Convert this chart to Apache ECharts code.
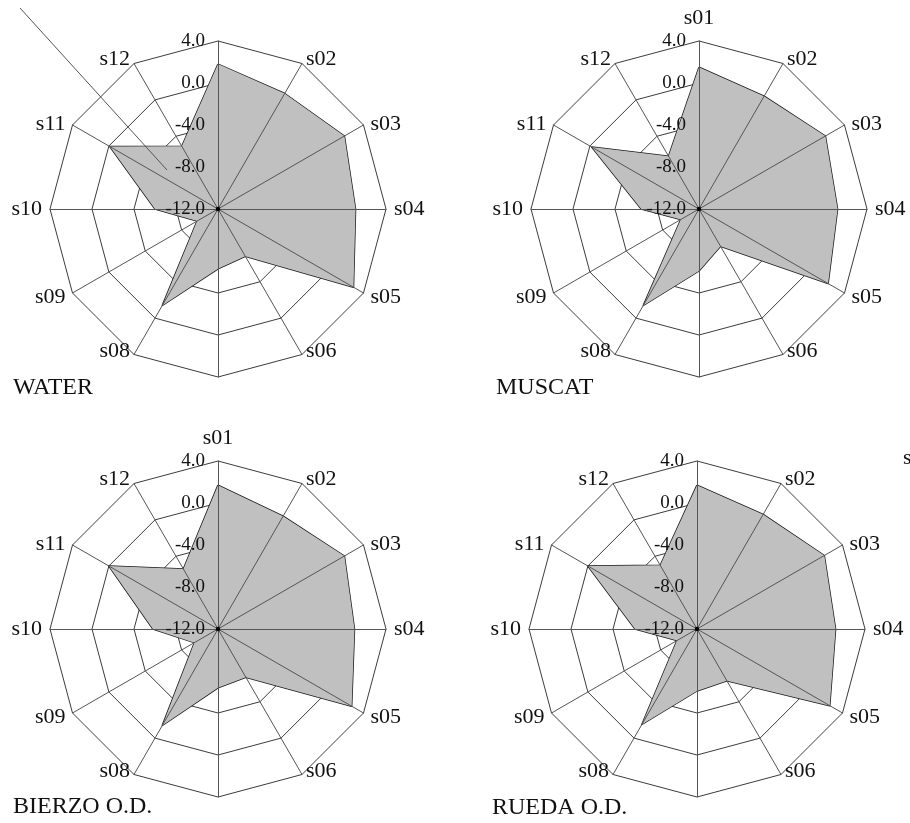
<!DOCTYPE html>
<html>
<head>
<meta charset="utf-8">
<script src="https://cdn.jsdelivr.net/npm/echarts@6/dist/echarts.min.js"></script>
<style>
  html, body { margin: 0; padding: 0; background: #fff; }
  #chart { width: 910px; height: 823px; }
</style>
</head>
<body>
<div id="chart"></div>
<script>
// Sensory attributes, listed clockwise from the top
const categories = ['s01', 's02', 's03', 's04', 's05', 's06', 's07', 's08', 's09', 's10', 's11', 's12'];

// Scores per attribute for each sample (same order as categories)
const waterValues  = [1.8, 0.7, 1.9, 1.1, 2.9, -6.8, -6.3, -1.4, -9.7, -6.0, -0.1, -5.1];
const muscatValues = [1.5, 0.4, 1.9, 1.2, 2.2, -7.9, -6.1, -1.4, -10.0, -6.5, -0.2, -6.2];
const bierzoValues = [1.7, 0.4, 1.9, 1.0, 2.7, -6.7, -6.4, -1.4, -9.4, -5.8, 0.0, -5.4];
const ruedaValues  = [1.7, 0.6, 2.0, 1.2, 2.6, -6.3, -6.1, -1.5, -9.8, -6.1, 0.0, -5.0];

// Value scale shared by all four radars
const scaleMin = -12;
const scaleMax = 4;
const scaleSplits = 4;

const FONT = 'Liberation Serif';
const INK = '#111';
const R = 168;

const panels = [
  { title: 'WATER',       values: waterValues,  center: [218, 209], titlePos: [8, 371],   hidden: ['s01', 's07'] },
  { title: 'MUSCAT',      values: muscatValues, center: [699, 209], titlePos: [491, 371], hidden: ['s07'] },
  { title: 'BIERZO O.D.', values: bierzoValues, center: [218, 629], titlePos: [8, 790],   hidden: ['s07'] },
  { title: 'RUEDA O.D.',  values: ruedaValues,  center: [697, 629], titlePos: [487, 791], hidden: ['s01', 's07'] }
];

// ECharts lays indicators out counter-clockwise, so feed them in reverse
// after the first one to get a clockwise s01..s12 ring.
const order = [0].concat(categories.slice(1).map((_, k) => categories.length - 1 - k));

// nudges for individual attribute names around the rim
const nameStyleKey = { s01: 'up', s02: 'hi', s03: 'hi', s11: 'hi', s12: 'hi', s06: 'low', s08: 'low' };
const nameRich = {
  up:  { fontFamily: FONT, fontSize: 22, color: INK, padding: [0, 0, 4, 0] },
  hi:  { fontFamily: FONT, fontSize: 22, color: INK, padding: [6, 0, 0, 0] },
  low: { fontFamily: FONT, fontSize: 22, color: INK, padding: [0, 0, 20, 0] },
  n:   { fontFamily: FONT, fontSize: 22, color: INK }
};

const radars = [];
const series = [];
const titles = [];
const graphics = [];

panels.forEach((p, i) => {
  const c = p.center.map(String);
  // rings + attribute names (below the filled area)
  radars.push({
    center: c, radius: R, startAngle: 90, shape: 'polygon', splitNumber: scaleSplits, z: 1,
    indicator: order.map(k => {
      const name = categories[k];
      return { name: p.hidden.includes(name) ? '' : name, min: scaleMin, max: scaleMax };
    }),
    nameGap: 8,
    axisName: {
      color: INK, fontFamily: FONT, fontSize: 22,
      formatter: name => name ? '{' + (nameStyleKey[name] || 'n') + '|' + name + '}' : '',
      rich: nameRich
    },
    splitLine: { lineStyle: { color: '#3c3c3c', width: 1 } },
    splitArea: { show: false },
    axisLine: { show: false },
    axisTick: { show: false },
    axisLabel: { show: false }
  });
  // spokes drawn over the filled area
  radars.push({
    center: c, radius: R, startAngle: 90, shape: 'polygon', splitNumber: scaleSplits, z: 5,
    indicator: categories.map(() => ({ name: '', min: scaleMin, max: scaleMax })),
    axisName: { show: false },
    splitLine: { show: false },
    splitArea: { show: false },
    axisLine: { lineStyle: { color: '#555', width: 1 } },
    axisTick: { show: false },
    axisLabel: { show: false }
  });
  // value labels along the s01 spoke
  radars.push({
    center: c, radius: R, startAngle: 90, shape: 'polygon', splitNumber: scaleSplits, z: 6,
    indicator: [{ name: '', min: scaleMin, max: scaleMax }],
    axisName: { show: false },
    splitLine: { show: false },
    splitArea: { show: false },
    axisLine: { show: false },
    axisTick: { show: false },
    axisLabel: {
      show: true, margin: 13, color: INK, fontFamily: FONT, fontSize: 19,
      formatter: v => Number(v).toFixed(1)
    }
  });

  series.push({
    type: 'radar',
    radarIndex: i * 3,
    z: 2,
    symbol: 'none',
    silent: true,
    lineStyle: { color: '#1a1a1a', width: 1.5 },
    areaStyle: { color: '#c0c0c0', opacity: 1 },
    data: [{ value: order.map(k => p.values[k]), name: p.title }]
  });

  titles.push({
    text: p.title, left: p.titlePos[0], top: p.titlePos[1],
    textStyle: { fontFamily: FONT, fontSize: 24, fontWeight: 'normal', color: INK }
  });

  graphics.push({
    type: 'circle', z: 10,
    shape: { cx: p.center[0], cy: p.center[1], r: 2.2 },
    style: { fill: '#000' }
  });
});

// leader line across the first panel and the stray name at the right edge
graphics.push({
  type: 'line', z: 10,
  shape: { x1: 20, y1: 8, x2: 167, y2: 170 },
  style: { stroke: '#555', lineWidth: 1 }
});
graphics.push({
  type: 'text', z: 10, x: 903, y: 458,
  style: { text: 's01', fontFamily: FONT, fontSize: 22, fill: INK, verticalAlign: 'middle' }
});

const chart = echarts.init(document.getElementById('chart'), null, { renderer: 'canvas' });
chart.setOption({
  backgroundColor: '#fff',
  animation: false,
  title: titles,
  radar: radars,
  series: series,
  graphic: graphics
});
</script>
</body>
</html>
